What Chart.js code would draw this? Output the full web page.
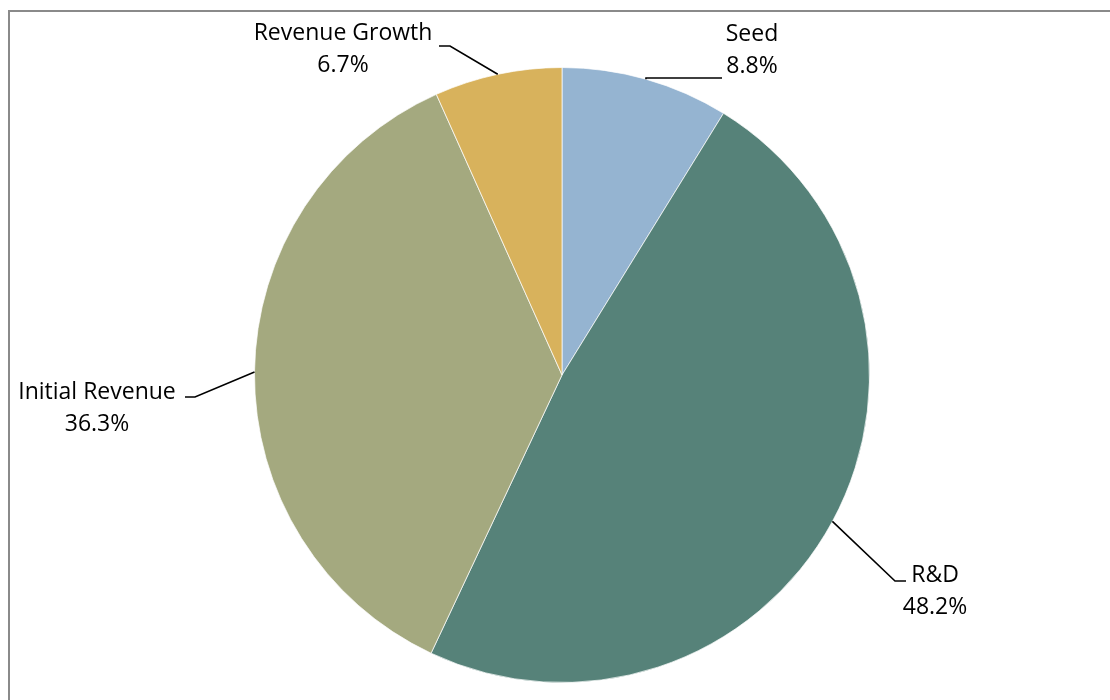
<!DOCTYPE html>
<html>
<head>
<meta charset="utf-8">
<script src="https://cdn.jsdelivr.net/npm/chart.js@4.4.1/dist/chart.umd.min.js"></script>
<style>
  html, body { margin: 0; padding: 0; background: #ffffff; }
  #wrap { width: 1110px; height: 700px; position: relative; }
</style>
</head>
<body>
<div id="wrap"><canvas id="pie" width="1110" height="700"></canvas></div>
<script>
// Funding stages, clockwise from 12 o'clock
const categories = ['Seed', 'R&D', 'Initial Revenue', 'Revenue Growth'];
const shares = [8.8, 48.2, 36.3, 6.7];
const valueLabels = ['8.8%', '48.2%', '36.3%', '6.7%'];
const sliceColors = ['#95B4D1', '#568279', '#A4A97F', '#D8B25C'];

// Callout placement: leader elbow, leader end and text block (centre x, first baseline)
const callouts = {
  'Seed':            { elbow: [646, 78],  end: [722, 78],  text: [752, 41] },
  'R&D':             { elbow: [895, 581], end: [906, 581], text: [935, 582] },
  'Initial Revenue': { elbow: [195, 397], end: [185, 397], text: [97, 399] },
  'Revenue Growth':  { elbow: [450, 46],  end: [439, 46],  text: [343, 40] }
};

const LABEL_FONT = '23px "Open Sans"';
const LINE_GAP = 32;

const calloutPlugin = {
  id: 'callouts',
  beforeDraw(chart) {
    const ctx = chart.ctx;
    ctx.save();
    ctx.fillStyle = '#ffffff';
    ctx.fillRect(0, 0, chart.width, chart.height);
    // outer frame
    ctx.fillStyle = '#8a8a8a';
    ctx.fillRect(8, 10, chart.width - 8, 2);
    ctx.fillRect(8, 10, 2, chart.height - 10);
    ctx.restore();
  },
  afterDatasetsDraw(chart) {
    const ctx = chart.ctx;
    const meta = chart.getDatasetMeta(0);
    ctx.save();
    ctx.strokeStyle = '#000000';
    ctx.lineWidth = 1.6;
    ctx.fillStyle = '#000000';
    ctx.font = LABEL_FONT;
    ctx.textAlign = 'center';
    ctx.textBaseline = 'alphabetic';
    meta.data.forEach((arc, i) => {
      const p = arc.getProps(['x', 'y', 'startAngle', 'endAngle', 'outerRadius'], true);
      const mid = (p.startAngle + p.endAngle) / 2;
      const ax = p.x + Math.cos(mid) * p.outerRadius;
      const ay = p.y + Math.sin(mid) * p.outerRadius;
      const c = callouts[categories[i]];
      ctx.beginPath();
      ctx.moveTo(ax, ay);
      ctx.lineTo(c.elbow[0], c.elbow[1]);
      ctx.lineTo(c.end[0], c.end[1]);
      ctx.stroke();
      ctx.fillText(categories[i], c.text[0], c.text[1]);
      ctx.fillText(valueLabels[i], c.text[0], c.text[1] + LINE_GAP);
    });
    ctx.restore();
  }
};

new Chart(document.getElementById('pie'), {
  type: 'pie',
  data: {
    labels: categories,
    datasets: [{
      data: shares,
      backgroundColor: sliceColors,
      borderColor: 'rgba(255,255,255,0.7)',
      borderWidth: 1
    }]
  },
  options: {
    responsive: false,
    animation: false,
    layout: { padding: { top: 67, bottom: 17, left: 254, right: 240 } },
    plugins: {
      legend: { display: false },
      tooltip: { enabled: false },
      title: { display: false }
    }
  },
  plugins: [calloutPlugin]
});
</script>
</body>
</html>
